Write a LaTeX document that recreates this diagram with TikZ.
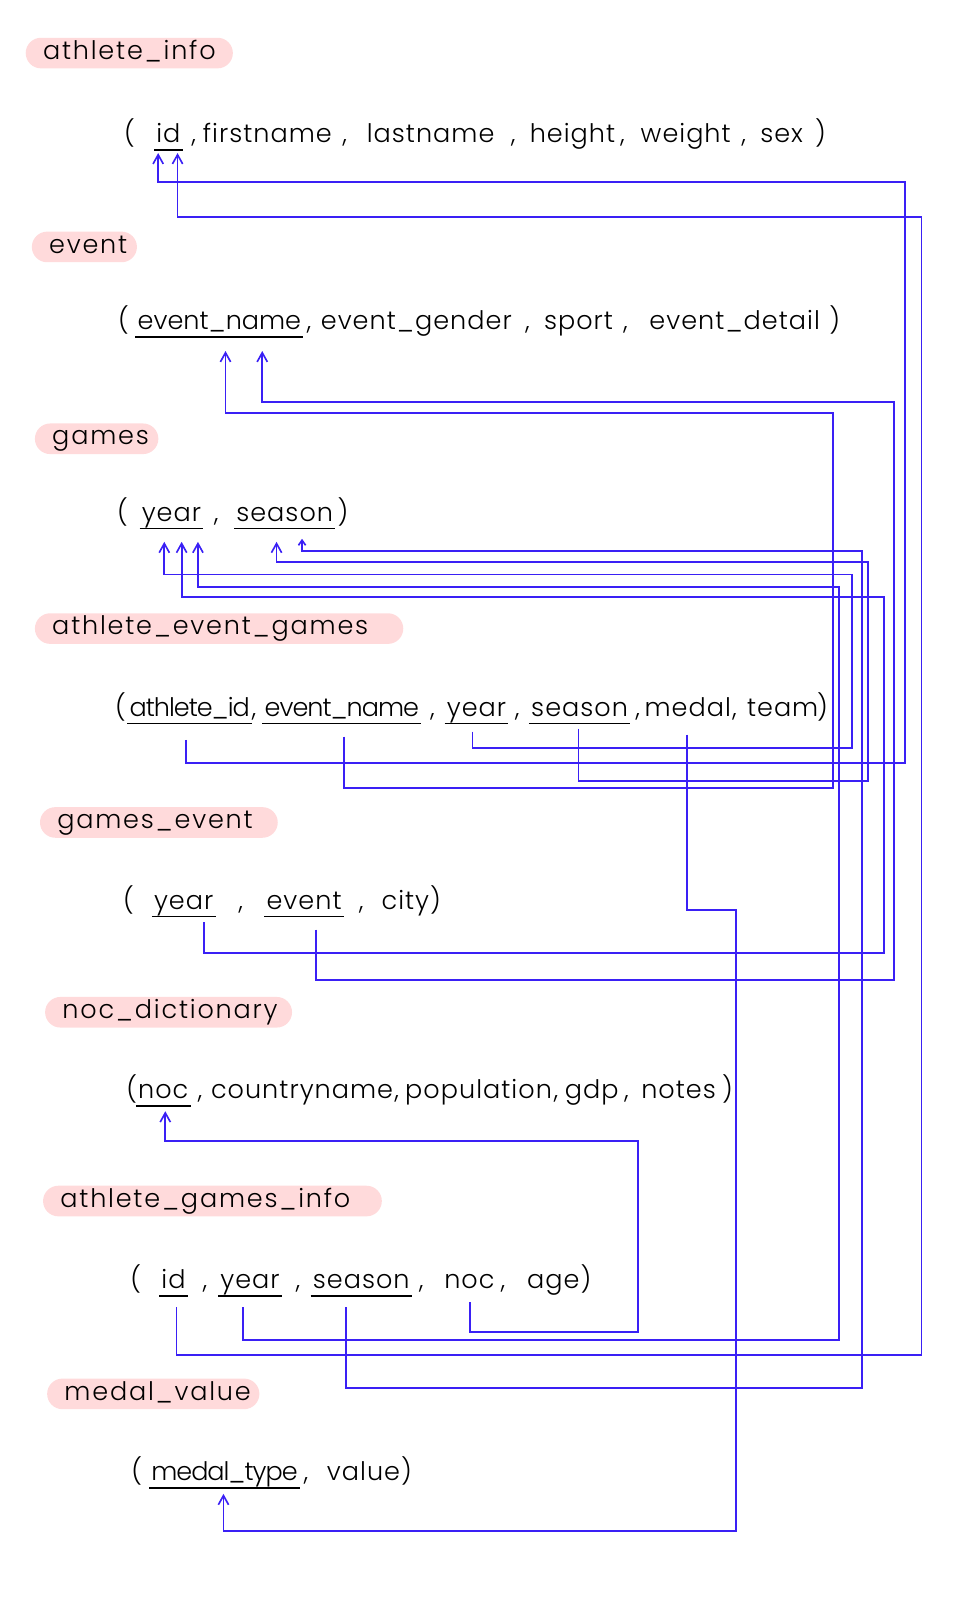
\documentclass[tikz,border=0pt]{standalone}
\usepackage{fontspec}
\setmainfont{Poppins}[UprightFont=* Light]
\newfontfamily\rowfont{Poppins}[UprightFont=* Light, LetterSpace=4]
\newfontfamily\plainfont{Poppins}[UprightFont=* Light]
\newfontfamily\tightfont{Poppins}[UprightFont=* Light, LetterSpace=-4]
\newfontfamily\pillfont{Poppins}[UprightFont=* Light, LetterSpace=7]
\usetikzlibrary{arrows.meta,calc}
\definecolor{fkblue}{RGB}{58,32,245}
\definecolor{pillpink}{RGB}{255,218,219}

\begin{document}
\begin{tikzpicture}[x=1pt,y=-1pt,
  txt/.style={font=\rowfont\fontsize{25}{30}\selectfont, inner sep=0pt, anchor=base},
  plain/.style={font=\plainfont\fontsize{25}{30}\selectfont},
  tight/.style={font=\tightfont\fontsize{25}{30}\selectfont},
  pill/.style={fill=pillpink, rounded corners=15pt, minimum height=30pt,
    inner xsep=17pt, inner ysep=0pt, anchor=west, align=left,
    text height=17pt, text depth=5pt, font=\pillfont\fontsize{25}{30}\selectfont},
  fk/.style={draw=fkblue, line width=1.8pt, line join=miter,
    -{Straight Barb[length=9pt,width=10pt,line width=1.6pt]}},
  fksmall/.style={fk, -{Straight Barb[length=5pt,width=7pt,line width=1.6pt]}},
  uline/.style={draw=black, line width=1.5pt}
]
\useasboundingbox (0,0) rectangle (958,1568);

% ---- table titles ----
\node[pill, text width=169pt] (t-ai)  at (25,52)   {athlete\_info};
\node[pill, text width=69pt]  (t-ev)  at (31,242)  {event};
\node[pill, text width=87pt]  (t-ga)  at (34,430)  {games};
\node[pill, text width=327pt] (t-aeg) at (34,616)  {athlete\_event\_games};
\node[pill, text width=199pt] (t-ge)  at (39,806)  {games\_event};
\node[pill, text width=208pt] (t-nd)  at (44,992)  {noc\_dictionary};
\node[pill, text width=298pt] (t-agi) at (42,1177) {athlete\_games\_info};
\node[pill, text width=174pt] (t-mv)  at (46,1366) {medal\_value};

% ---- athlete_info ----
\node[txt] (ai-o)  at (127,140) {(};
\node[txt] (ai-id) at (165,140) {id};
\node[txt] (ai-c1) at (190,140) {,};
\node[txt] (ai-f1) at (262,140) {firstname};
\node[txt] (ai-c2) at (338,140) {,};
\node[txt] (ai-f2) at (422,140) {lastname};
\node[txt] (ai-c3) at (503,140) {,};
\node[txt] (ai-f3) at (561,140) {height};
\node[txt] (ai-c4) at (610,140) {,};
\node[txt] (ai-f4) at (672,140) {weight};
\node[txt] (ai-c5) at (729,140) {,};
\node[txt] (ai-f5) at (766,140) {sex};
\node[txt] (ai-cl) at (804,140) {)};

% ---- event ----
\node[txt] (ev-o)    at (121,323) {(};
\node[txt, plain] (ev-name) at (215,323) {event\_name};
\node[txt] (ev-c1)   at (303,323) {,};
\node[txt] (ev-f1)   at (408,323) {event\_gender};
\node[txt] (ev-c2)   at (517,323) {,};
\node[txt] (ev-f2)   at (567,323) {sport};
\node[txt] (ev-c3)   at (613,323) {,};
\node[txt] (ev-f3)   at (720,323) {event\_detail};
\node[txt] (ev-cl)   at (818,323) {)};

% ---- games ----
\node[txt] (ga-o)      at (120,511) {(};
\node[txt] (ga-year)   at (168,511) {year};
\node[txt] (ga-c)      at (212,511) {,};
\node[txt] (ga-season) at (279,511) {season};
\node[txt] (ga-cl)     at (336,511) {)};

% ---- athlete_event_games ----
\node[txt] (aeg-o)             at (118,702) {(};
\node[txt, tight] (aeg-athid)  at (186,702) {athlete\_id};
\node[txt] (aeg-c1)            at (249,702) {,};
\node[txt, tight] (aeg-evname) at (335,702) {event\_name};
\node[txt] (aeg-c2)            at (424,702) {,};
\node[txt] (aeg-year)          at (467,702) {year};
\node[txt] (aeg-c3)            at (507,702) {,};
\node[txt] (aeg-season)        at (568,702) {season};
\node[txt] (aeg-c4)            at (625,702) {,};
\node[txt] (aeg-medal)         at (674,702) {medal};
\node[txt] (aeg-c5)            at (720,702) {,};
\node[txt] (aeg-team)          at (767,702) {team};
\node[txt] (aeg-cl)            at (806,702) {)};

% ---- games_event ----
\node[txt] (ge-o)     at (126,891) {(};
\node[txt] (ge-year)  at (180,891) {year};
\node[txt] (ge-c1)    at (236,891) {,};
\node[txt] (ge-event) at (298,891) {event};
\node[txt] (ge-c2)    at (354,891) {,};
\node[txt] (ge-f)     at (403,891) {city)};

% ---- noc_dictionary ----
\node[txt] (nd-o)   at (129,1077) {(};
\node[txt] (nd-noc) at (160,1077) {noc};
\node[txt] (nd-c1)  at (196,1077) {,};
\node[txt] (nd-f1)  at (296,1077) {countryname};
\node[txt] (nd-c2)  at (389,1077) {,};
\node[txt] (nd-f2)  at (469,1077) {population};
\node[txt] (nd-c3)  at (545,1077) {,};
\node[txt] (nd-f3)  at (580,1077) {gdp};
\node[txt] (nd-c4)  at (614,1077) {,};
\node[txt] (nd-f4)  at (665,1077) {notes};
\node[txt] (nd-cl)  at (713,1077) {)};

% ---- athlete_games_info ----
\node[txt] (agi-o)      at (133,1263) {(};
\node[txt] (agi-id)     at (170,1263) {id};
\node[txt] (agi-c1)     at (201,1263) {,};
\node[txt] (agi-year)   at (245,1263) {year};
\node[txt] (agi-c2)     at (292,1263) {,};
\node[txt] (agi-season) at (354,1263) {season};
\node[txt] (agi-c3)     at (413,1263) {,};
\node[txt] (agi-noc)    at (460,1263) {noc};
\node[txt] (agi-c4)     at (493,1263) {,};
\node[txt] (agi-age)    at (548,1263) {age)};

% ---- medal_value ----
\node[txt] (mv-o)           at (134,1451) {(};
\node[txt, tight] (mv-type) at (220,1451) {medal\_type};
\node[txt] (mv-c1)          at (300,1451) {,};
\node[txt] (mv-f)           at (362,1451) {value)};

% ---- key underlines ----
\foreach \k in {ai-id, ev-name, ga-year, ga-season, aeg-athid, aeg-evname,
  aeg-year, aeg-season, ge-year, ge-event, nd-noc, agi-id, agi-year,
  agi-season, mv-type}
  \draw[uline] ([xshift=-2pt,yshift=-7pt]\k.base west) -- ([xshift=2pt,yshift=-7pt]\k.base east);

% ---- connector ends below the fields ----
\coordinate (s-aeg-athid)  at ($(aeg-athid.base)+(-4,23)$);
\coordinate (s-aeg-evname) at ($(aeg-evname.base)+(2,20)$);
\coordinate (s-aeg-year)   at ($(aeg-year.base)+(-4,15)$);
\coordinate (s-aeg-season) at ($(aeg-season.base)+(-1,12)$);
\coordinate (s-aeg-medal)  at ($(aeg-medal.base)+(-1,18)$);
\coordinate (s-ge-year)    at ($(ge-year.base)+(20,13)$);
\coordinate (s-ge-event)   at ($(ge-event.base)+(12,20)$);
\coordinate (s-agi-id)     at ($(agi-id.base)+(3,18)$);
\coordinate (s-agi-year)   at ($(agi-year.base)+(-7,18)$);
\coordinate (s-agi-season) at ($(agi-season.base)+(-15,18)$);
\coordinate (s-agi-noc)    at ($(agi-noc.base)+(1,13)$);

\coordinate (e-ai-id-a)     at ($(ai-id.base)+(-10,10)$);
\coordinate (e-ai-id-b)     at ($(ai-id.base)+(9,10)$);
\coordinate (e-ev-name-a)   at ($(ev-name.base)+(6,21)$);
\coordinate (e-ev-name-b)   at ($(ev-name.base)+(42,21)$);
\coordinate (e-ga-year-a)   at ($(ga-year.base)+(-7,20)$);
\coordinate (e-ga-year-b)   at ($(ga-year.base)+(10,20)$);
\coordinate (e-ga-year-c)   at ($(ga-year.base)+(26,20)$);
\coordinate (e-ga-season-a) at ($(ga-season.base)+(-8,20)$);
\coordinate (e-ga-season-b) at ($(ga-season.base)+(17,17)$);
\coordinate (e-nd-noc)      at ($(nd-noc.base)+(2,12)$);
\coordinate (e-mv-type)     at ($(mv-type.base)+(-1,13)$);

% ---- foreign keys ----
\draw[fk] (s-aeg-athid)  |- (887,748)  -- (887,178)  -| (e-ai-id-a);
\draw[fk] (s-agi-id)     |- (903,1328) -- (903,213)  -| (e-ai-id-b);
\draw[fk] (s-aeg-evname) |- (816,772)  -- (816,405)  -| (e-ev-name-a);
\draw[fk] (s-ge-event)   |- (876,960)  -- (876,394)  -| (e-ev-name-b);
\draw[fk] (s-aeg-year)   |- (835,733)  -- (835,563)  -| (e-ga-year-a);
\draw[fk] (s-aeg-season) |- (851,765)  -- (851,551)  -| (e-ga-season-a);
\draw[fk] (s-ge-year)    |- (866,934)  -- (866,585)  -| (e-ga-year-b);
\draw[fk] (s-agi-year)   |- (822,1313) -- (822,575)  -| (e-ga-year-c);
\draw[fksmall] (s-agi-season) |- (845,1360) -- (845,540) -| (e-ga-season-b);
\draw[fk] (s-aeg-medal)  |- (721,892)  -- (721,1500) -| (e-mv-type);
\draw[fk] (s-agi-noc)    |- (625,1305) -- (625,1118) -| (e-nd-noc);
\end{tikzpicture}
\end{document}
